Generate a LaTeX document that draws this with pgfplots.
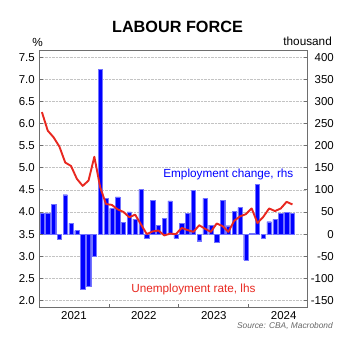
\documentclass[border=0pt]{standalone}
\usepackage{pgfplots}
\usepackage{pgfplotstable}
\pgfplotsset{compat=1.18}
\usepackage{fontspec}
\setmainfont{Liberation Sans}
\definecolor{barblue}{RGB}{0,0,255}
\definecolor{linered}{RGB}{232,40,32}
\definecolor{framegray}{RGB}{110,110,110}
\definecolor{gridgray}{RGB}{195,195,195}

\pgfplotstableread{
m emp une
1 48 6.26
2 48 5.84
3 68 5.69
4 -11 5.48
5 89 5.12
6 24 5.04
7 8 4.75
8 -124 4.59
9 -118 4.71
10 -51 5.25
11 373 4.56
12 81 4.18
13 58 4.16
14 84 4.06
15 26 4.00
16 50 3.88
17 34 3.94
18 101 3.72
19 -10 3.50
20 77 3.56
21 20 3.58
22 35 3.47
23 75 3.51
24 -10 3.50
25 24 3.64
26 47 3.59
27 99 3.55
28 -15 3.70
29 81 3.62
30 20 3.55
31 -18 3.74
32 76 3.68
33 19 3.55
34 52 3.80
35 60 3.90
36 -59 3.95
37 2 4.08
38 113 3.75
39 -10 3.89
40 28 4.08
41 33 4.02
42 47 4.08
43 49 4.23
44 47 4.17
}\labour

\begin{document}
\begin{tikzpicture}
\pgfplotsset{
  common/.style={
    scale only axis, width=268bp, height=257bp,
    at={(0,0)}, anchor=south west,
    xmin=0.5, xmax=46.5,
    axis line style={framegray, line width=0.8bp},
    tick style={framegray, line width=0.8bp},
    tick align=inside,
    major tick length=3.5bp,
    ticklabel style={font=\fontsize{11.5}{13}\selectfont},
    /pgf/number format/assume math mode=true,
  }
}
\begin{axis}[common,
  ymin=-165, ymax=416.5,
  ytick={-150,-100,-50,0,50,100,150,200,250,300,350,400},
  ytick pos=right,
  yticklabel style={anchor=east, inner sep=0pt, xshift=27bp},
  xtick={12.5,24.5,36.5}, xticklabels={},
  xtick pos=bottom,
  extra x ticks={6.5,18.5,30.5,42.5},
  extra x tick labels={2021,2022,2023,2024},
  extra x tick style={tick style={draw=none}, xticklabel style={anchor=base, inner sep=0pt, yshift=-12.3bp}},
  ymajorgrids, grid style={gridgray, densely dotted, line width=0.6bp},
]
\addplot[ybar, bar width=0.74, fill=barblue, draw=barblue!55, line width=0.3bp] table[x=m, y=emp] {\labour};
\end{axis}
\begin{axis}[common,
  ymin=1.85, ymax=7.665,
  ytick={2,2.5,3,3.5,4,4.5,5,5.5,6,6.5,7,7.5},
  axis y line*=left, axis x line=none,
  yticklabel style={anchor=east, inner sep=0pt, xshift=-4bp,
    /pgf/number format/.cd, fixed, fixed zerofill, precision=1},
]
\addplot[linered, line width=1.9bp, line join=round] table[x=m, y=une] {\labour};
\node[anchor=base, text=barblue, font=\fontsize{11.8}{14}\selectfont] at (axis cs:33,4.77) {Employment change, rhs};
\node[anchor=base, text=linered, font=\fontsize{11.8}{14}\selectfont] at (axis cs:27,2.17) {Unemployment rate, lhs};
\end{axis}
\node[anchor=base, font=\bfseries\fontsize{16.3}{18}\selectfont] at (138.5bp,274.7bp) {LABOUR FORCE};
\node[anchor=base, inner sep=0pt, font=\fontsize{11.8}{14}\selectfont] at (-1.5bp,260.5bp) {\%};
\node[anchor=base east, inner sep=0pt, font=\fontsize{11.8}{14}\selectfont] at (293bp,261bp) {thousand};
\node[anchor=base east, inner sep=0pt, text=black!60, font=\itshape\fontsize{8.4}{10}\selectfont] at (294bp,-21bp) {Source: CBA, Macrobond};
\pgfresetboundingbox
\path[use as bounding box] (-39bp,-35bp) rectangle (321bp,307bp);
\end{tikzpicture}
\end{document}
